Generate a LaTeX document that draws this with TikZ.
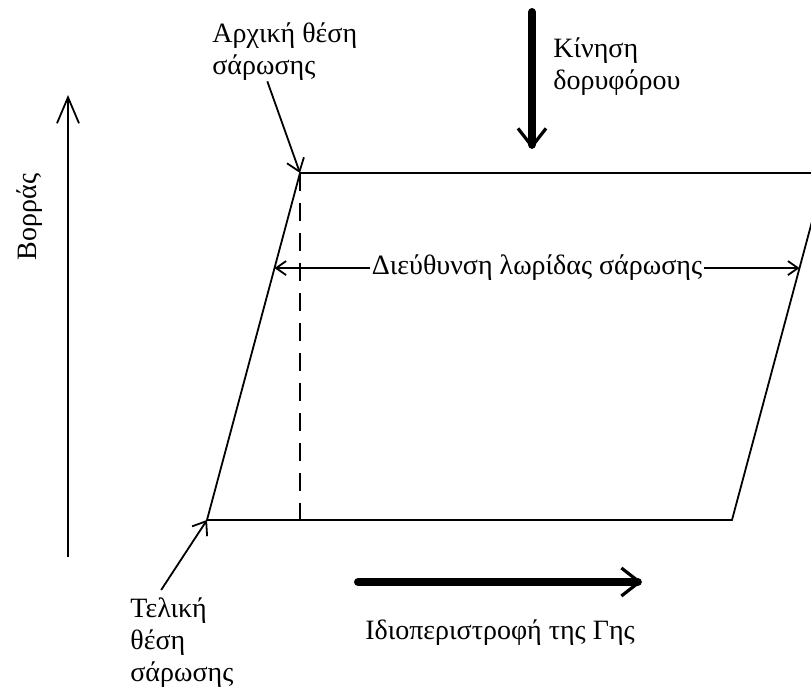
\documentclass[tikz,border=0pt]{standalone}
\usepackage{fontspec}
\setmainfont{Liberation Serif}
\usetikzlibrary{arrows.meta,calc}
\tikzset{
  {edge/.style} ={draw,line width=0.9pt},
  {pointer/.style} ={edge,-{Straight Barb[length=6pt,width=9pt]}},
  {both pointer/.style} ={edge,{Straight Barb[length=5pt,width=7pt]}-{Straight Barb[length=5pt,width=7pt]}},
  {north pointer/.style} ={edge,-{Straight Barb[length=13pt,width=11pt]}},
  {big pointer/.style} ={draw,line width=4pt,line cap=round,
                -{Straight Barb[line width=1.6pt,length=9pt,width=14pt]}},
  {caption text/.style} ={inner sep=0,align=left,
                font=\fontsize{14}{16}\selectfont},
}

\begin{document}
\begin{tikzpicture}[x=0.5pt,y=-0.5pt]
\useasboundingbox (0,0) rectangle (811,694);
\clip (0,0) rectangle (811,694);

% scan strip
\coordinate (A) at (300,173);
\coordinate (B) at (825,173);
\coordinate (C) at (732,520);
\coordinate (D) at (207,520);
\coordinate (Abase) at (300,520);
\draw[edge,line join=miter] (A) -- (B) -- (C) -- (D) -- cycle;
\draw[edge,dash pattern=on 9pt off 6pt] (A) -- (Abase);

% scan line direction
\coordinate (dirL) at ($(D)!0.726!(A)$);
\coordinate (dirR) at ($(C)!0.726!(B)$);
\draw[both pointer] (dirL) -- node[fill=white,inner sep=1pt,
    font=\fontsize{14}{16}\selectfont] (dirlabel)
    {Διεύθυνση λωρίδας σάρωσης} (dirR);

% start and end of scan
\node[caption text,anchor=base west] (startlabel) at (212,75)
    {Αρχική θέση\\σάρωσης};
\draw[pointer] ($(startlabel.south west)!0.38!(startlabel.south east)$) -- (A);
\node[caption text,anchor=north west] (endlabel) at (130,597)
    {Τελική\\θέση\\σάρωσης};
\draw[pointer] ($(endlabel.north west)!0.3!(endlabel.north east)+(0,-7)$) -- (D);

% satellite motion
\coordinate (sat start) at (532,12);
\coordinate (sat end) at (532,149);
\draw[big pointer] (sat start) -- (sat end);
\node[caption text,anchor=base west] (satlabel) at (553,90)
    {Κίνηση\\δορυφόρου};

% north
\coordinate (north start) at (68,557);
\coordinate (north end) at (68,95);
\draw[north pointer] (north start) -- (north end);
\node[caption text,rotate=90] (northlabel) at (30,217) {Βορράς};

% earth rotation
\coordinate (rot start) at (358,582);
\coordinate (rot end) at (642,582);
\draw[big pointer] (rot start) -- (rot end);
\node[caption text,anchor=base] (rotlabel) at (500,640)
    {Ιδιοπεριστροφή της Γης};
\end{tikzpicture}
\end{document}
